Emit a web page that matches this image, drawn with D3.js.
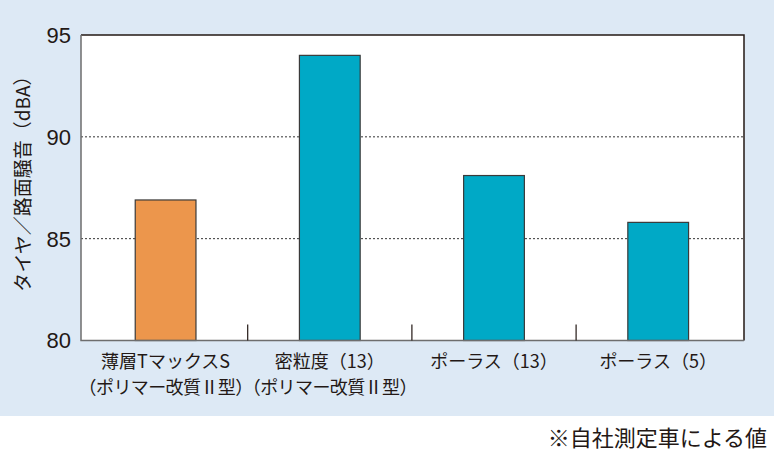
<!DOCTYPE html>
<html>
<head>
<meta charset="utf-8">
<script src="https://cdn.jsdelivr.net/npm/d3@7"></script>
<style>
  body { margin: 0; background: #fff; }
  svg text { font-family: "Noto Sans CJK JP", "Noto Sans", sans-serif; fill: #231815; }
</style>
</head>
<body>
<svg id="chart" width="774" height="451"></svg>
<script>
// data
let categories = ["薄層Tマックス", "密粒度", "ポーラス13", "ポーラス5"];
let labelLines = [
  ["薄層TマックスS", "（ポリマー改質Ⅱ型）"],
  ["密粒度（13）", "（ポリマー改質Ⅱ型）"],
  ["ポーラス（13）"],
  ["ポーラス（5）"]
];
let noiseValues = [86.9, 94.0, 88.1, 85.8];
let barColors = ["#ec964c", "#00a9c6", "#00a9c6", "#00a9c6"];
let yTicks = [80, 85, 90, 95];

let width = 774, height = 451;
let margin = {top: 35, right: 30, bottom: 111, left: 81};
let plotRight = 744;

let svg = d3.select('#chart');

// light blue panel
svg.append('rect')
  .attr('x', 0).attr('y', 0)
  .attr('width', width).attr('height', 416)
  .style('fill', '#dde9f5');

let x = d3.scaleBand()
  .domain(categories)
  .range([83.5, 740.3])
  .paddingInner(0)
  .paddingOuter(0);

let y = d3.scaleLinear()
  .domain([80, 95])
  .range([340.5, margin.top]);

// plot area
svg.append('rect')
  .attr('x', margin.left).attr('y', y(95))
  .attr('width', plotRight - margin.left).attr('height', y(80) - y(95))
  .style('fill', '#fff');

// dotted grid lines
svg.selectAll('line.grid')
  .data(yTicks.filter(d => d != 80 && d != 95))
  .enter()
  .append('line')
  .attr('class', 'grid')
  .attr('x1', margin.left).attr('x2', plotRight)
  .attr('y1', d => y(d)).attr('y2', d => y(d))
  .style('stroke', '#333')
  .style('stroke-width', 1)
  .style('stroke-dasharray', '2,2');

// bars
let bw = x.bandwidth() * 0.37;
svg.selectAll('rect.bar')
  .data(noiseValues)
  .enter()
  .append('rect')
  .attr('class', 'bar')
  .attr('x', (d, i) => x(categories[i]) + x.bandwidth() / 2 - bw / 2)
  .attr('y', d => y(d))
  .attr('width', bw)
  .attr('height', d => y(80) - y(d))
  .style('fill', (d, i) => barColors[i])
  .style('stroke', '#3a3a3a')
  .style('stroke-width', 1.2);

// frame: top and right dark, left and bottom gray
svg.append('path')
  .attr('d', `M${margin.left},${y(95)}H${plotRight}V${y(80)}`)
  .style('fill', 'none')
  .style('stroke', '#231815')
  .style('stroke-width', 1.5);
svg.append('path')
  .attr('d', `M${margin.left},${y(95)}V${y(80)}H${plotRight}`)
  .style('fill', 'none')
  .style('stroke', '#6e6e6e')
  .style('stroke-width', 1.5);

// category separator ticks
svg.selectAll('line.sep')
  .data(categories.slice(1))
  .enter()
  .append('line')
  .attr('class', 'sep')
  .attr('x1', d => x(d)).attr('x2', d => x(d))
  .attr('y1', y(80)).attr('y2', y(80) - 16)
  .style('stroke', '#231815')
  .style('stroke-width', 1.2);

// y tick labels
svg.selectAll('text.ytick')
  .data(yTicks)
  .enter()
  .append('text')
  .attr('class', 'ytick')
  .attr('x', 71)
  .attr('y', d => y(d))
  .attr('dy', '0.36em')
  .attr('text-anchor', 'end')
  .style('font-family', '"Liberation Sans", Arial, sans-serif')
  .style('font-size', '22px')
  .text(d => d);

// category labels
labelLines.forEach((lines, i) => {
  let cx = x(categories[i]) + x.bandwidth() / 2;
  lines.forEach((line, j) => {
    svg.append('text')
      .attr('class', 'xlabel')
      .attr('x', cx)
      .attr('y', 368 + j * 26)
      .attr('text-anchor', 'middle')
      .style('font-size', '18px')
      .style('letter-spacing', j == 0 ? '0px' : '-0.6px')
      .text(line);
  });
});

// y axis title
svg.append('text')
  .attr('transform', 'translate(30,179) rotate(-90)')
  .attr('text-anchor', 'middle')
  .style('font-size', '19px')
  .text('タイヤ／路面騒音（dBA）');

// footnote
svg.append('text')
  .attr('x', 767)
  .attr('y', 446)
  .attr('text-anchor', 'end')
  .style('font-size', '22px')
  .text('※自社測定車による値');
</script>
</body>
</html>
